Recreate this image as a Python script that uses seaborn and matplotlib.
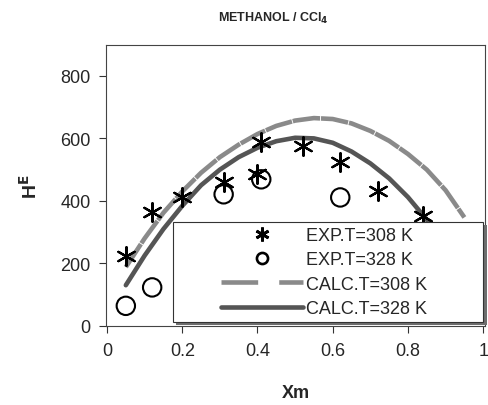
import matplotlib
matplotlib.use("Agg")
import matplotlib.pyplot as plt
import seaborn as sns
import pandas as pd
from matplotlib.lines import Line2D
from matplotlib.patches import Rectangle

# experimental points
x_exp308 = [0.05, 0.12, 0.20, 0.31, 0.40, 0.41, 0.52, 0.62, 0.72, 0.84]
he_exp308 = [224, 363, 413, 459, 485, 587, 576, 523, 432, 350]
x_exp328 = [0.05, 0.12, 0.31, 0.41, 0.62]
he_exp328 = [64, 123, 421, 469, 411]

# calculated curves
x_calc308 = [0.05, 0.10, 0.15, 0.20, 0.25, 0.30, 0.35, 0.40, 0.45, 0.50,
             0.55, 0.60, 0.65, 0.70, 0.75, 0.80, 0.85, 0.90, 0.95]
he_calc308 = [188, 280, 362, 430, 490, 540, 580, 614, 640, 657,
              665, 662, 648, 624, 592, 550, 500, 434, 347]
x_calc328 = [0.05, 0.10, 0.15, 0.20, 0.25, 0.30, 0.35, 0.40, 0.45, 0.50,
             0.55, 0.60, 0.65, 0.70, 0.75, 0.80, 0.85, 0.90]
he_calc328 = [130, 225, 310, 384, 450, 500, 540, 570, 591, 602,
              600, 586, 558, 520, 472, 412, 340, 255]

labels = ["EXP.T=308 K", "EXP.T=328 K", "CALC.T=308 K", "CALC.T=328 K"]

sns.set_style("ticks")
plt.rcParams["font.family"] = ["Liberation Sans", "DejaVu Sans"]

fig = plt.figure(figsize=(4.88, 4.06), dpi=100)
ax = fig.add_axes([0.217, 0.195, 0.777, 0.6925])

calc308 = pd.DataFrame({"x": x_calc308, "he": he_calc308})
calc328 = pd.DataFrame({"x": x_calc328, "he": he_calc328})
sns.lineplot(data=calc308, x="x", y="he", ax=ax, color="#8a8a8a", lw=3.3,
             sort=False)
ax.lines[-1].set_dashes([6.0, 0.2])
sns.lineplot(data=calc328, x="x", y="he", ax=ax, color="#555555", lw=3.3,
             sort=False)

sns.scatterplot(x=x_exp308, y=he_exp308, ax=ax, marker=(6, 2, 0), s=180,
                color="black", linewidth=1.6, zorder=3)
sns.scatterplot(x=x_exp328, y=he_exp328, ax=ax, marker="o", s=175,
                facecolor="none", edgecolor="black", linewidth=1.5, zorder=3)

ax.set_xlim(-0.003, 1.005)
ax.set_ylim(0, 900)
ax.set_xticks([0, 0.2, 0.4, 0.6, 0.8, 1])
ax.set_xticklabels(["0", "0.2", "0.4", "0.6", "0.8", "1"])
ax.set_yticks([0, 200, 400, 600, 800])
ax.tick_params(labelsize=13, length=5, width=0.8, color="#333333")
ax.tick_params(axis="y", pad=6)
ax.tick_params(axis="x", pad=7)
for s in ax.spines.values():
    s.set_linewidth(0.8)
    s.set_color("#444444")

ax.set_xlabel("Xm", fontsize=13, fontweight="bold", labelpad=18)
ax.set_ylabel(r"H$^{\mathbf{E}}$", fontsize=14, fontweight="bold", labelpad=14)

fig.text(273 / 488, 1 - 18 / 406, r"METHANOL / CCl$_\mathbf{4}$",
         fontsize=9, fontweight="bold", ha="center", va="center")

# legend box with shadow
bx, by, bw, bh = 0.177, 0.013, 0.818, 0.357
ax.add_patch(Rectangle((bx + 0.009, by - 0.011), bw, bh, transform=ax.transAxes,
                       facecolor="#6e6e6e", edgecolor="none", zorder=4,
                       clip_on=False))
ax.add_patch(Rectangle((bx, by), bw, bh, transform=ax.transAxes,
                       facecolor="white", edgecolor="#333333", lw=0.8, zorder=4.5,
                       clip_on=False))

handles = [
    Line2D([], [], ls="none", marker=(6, 2, 0), ms=10, mec="black", mew=2.0),
    Line2D([], [], ls="none", marker="o", ms=8, mfc="none", mec="black", mew=1.9),
    Line2D([], [], color="#8a8a8a", lw=3.3, dashes=[8.0, 4.6]),
    Line2D([], [], color="#555555", lw=3.3),
]
leg = ax.legend(handles, labels, loc="center",
                bbox_to_anchor=(bx + bw / 2 - 0.01, by + bh / 2),
                frameon=False, fontsize=13, handlelength=4.5,
                handletextpad=0.2, labelspacing=0.4)
leg.set_zorder(6)

fig.savefig("out.png", dpi=100)
